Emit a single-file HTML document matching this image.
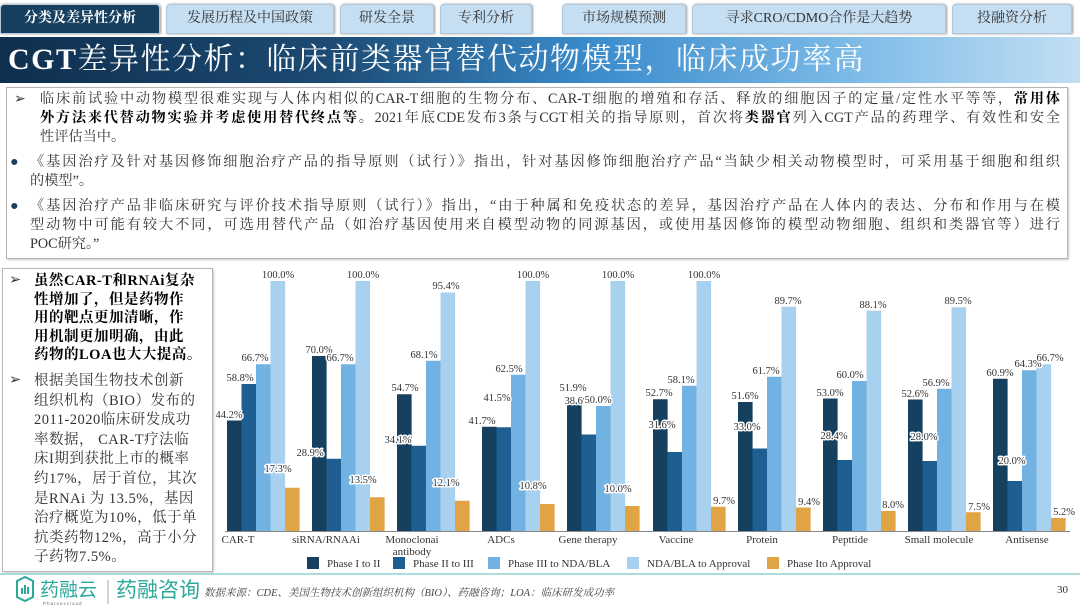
<!DOCTYPE html>
<html><head><meta charset="utf-8">
<style>
*{margin:0;padding:0;box-sizing:border-box}
body{width:1080px;height:609px;background:#fff;position:relative;overflow:hidden;font-family:"Liberation Serif","Noto Serif CJK SC",serif;color:#333}
.tab{position:absolute;top:4px;height:30px;background:#c5def2;border:1px solid #b3c8da;border-radius:4px 4px 0 0;font-size:14px;line-height:28px;text-align:center;color:#333;box-shadow:1px 0 2px #999}
.tab.on{background:#173f60;color:#fff;font-weight:bold}
.title{position:absolute;left:0;top:37px;width:1080px;height:46px;background:linear-gradient(90deg,#0f2f4f 0%,#1c4a72 30%,#3b8ccc 55%,#7ab9e6 78%,#c2dff4 100%);color:#fff;font-size:30px;line-height:46px;padding-left:8px;letter-spacing:1.5px}
.box{position:absolute;border:1px solid #b5b5b5;box-shadow:1px 1px 2px #ccc;background:#fff}
.ln{position:absolute;font-size:14.2px;line-height:19px;white-space:nowrap;color:#333}
.j{text-align:justify;text-align-last:justify}
b{color:#000}
.lt{position:absolute;font-size:14.5px;white-space:nowrap;color:#333;letter-spacing:0.5px}
</style></head><body>
<div class="tab on" style="left:0;width:160px">分类及差异性分析</div>
<div class="tab" style="left:166px;width:168px">发展历程及中国政策</div>
<div class="tab" style="left:340px;width:94px">研发全景</div>
<div class="tab" style="left:440px;width:92px">专利分析</div>
<div class="tab" style="left:562px;width:124px">市场规模预测</div>
<div class="tab" style="left:692px;width:254px">寻求CRO/CDMO合作是大趋势</div>
<div class="tab" style="left:952px;width:120px">投融资分析</div>
<div class="title"><span style="font-weight:bold">CGT</span>差异性分析：临床前类器官替代动物模型，临床成功率高</div>

<div class="box" style="left:6px;top:87px;width:1062px;height:172px"></div>
<div class="ln" style="left:14px;top:90px">➢</div>
<div class="ln j" style="left:40px;top:90px;width:1020px">临床前试验中动物模型很难实现与人体内相似的CAR-T细胞的生物分布、CAR-T细胞的增殖和存活、释放的细胞因子的定量/定性水平等等，<b>常用体</b></div>
<div class="ln j" style="left:40px;top:109px;width:1020px"><b>外方法来代替动物实验并考虑使用替代终点等</b>。2021年底CDE发布3条与CGT相关的指导原则，首次将<b>类器官</b>列入CGT产品的药理学、有效性和安全</div>
<div class="ln" style="left:40px;top:128px">性评估当中。</div>
<div class="ln" style="left:10px;top:153px;color:#1f3f5f">●</div>
<div class="ln j" style="left:30px;top:153px;width:1030px">《基因治疗及针对基因修饰细胞治疗产品的指导原则（试行）》指出，针对基因修饰细胞治疗产品“当缺少相关动物模型时，可采用基于细胞和组织</div>
<div class="ln" style="left:30px;top:172px">的模型”。</div>
<div class="ln" style="left:10px;top:197px;color:#1f3f5f">●</div>
<div class="ln j" style="left:30px;top:197px;width:1030px">《基因治疗产品非临床研究与评价技术指导原则（试行）》指出，“由于种属和免疫状态的差异，基因治疗产品在人体内的表达、分布和作用与在模</div>
<div class="ln j" style="left:30px;top:216px;width:1030px">型动物中可能有较大不同，可选用替代产品（如治疗基因使用来自模型动物的同源基因，或使用基因修饰的模型动物细胞、组织和类器官等）进行</div>
<div class="ln" style="left:30px;top:235px">POC研究。”</div>

<div class="box" style="left:2px;top:268px;width:211px;height:304px"></div>
<div class="lt" style="left:9px;top:272px">➢</div>
<div class="lt" style="left:34px;top:272px;font-weight:bold;color:#000;line-height:18.6px">虽然CAR-T和RNAi复杂<br>性增加了，但是药物作<br>用的靶点更加清晰，作<br>用机制更加明确，由此<br>药物的LOA也大大提高。</div>
<div class="lt" style="left:9px;top:372px">➢</div>
<div class="lt" style="left:34px;top:372px;line-height:19.6px">根据美国生物技术创新<br>组织机构（BIO）发布的<br>2011-2020临床研发成功<br>率数据， CAR-T疗法临<br>床I期到获批上市的概率<br>约17%，居于首位，其次<br>是RNAi 为 13.5%，基因<br>治疗概览为10%，低于单<br>抗类药物12%，高于小分<br>子药物7.5%。</div>

<svg style="position:absolute;left:0;top:0" width="1080" height="609" font-family="Liberation Serif, serif">
<g>
<rect x="227" y="420.5" width="14.6" height="110.5" fill="#15405f"/><rect x="241.5" y="384" width="14.6" height="147" fill="#1f5e91"/><rect x="256" y="364.25" width="14.6" height="166.75" fill="#72b2e2"/><rect x="270.5" y="281" width="14.6" height="250" fill="#a8d0ef"/><rect x="285" y="487.75" width="14.6" height="43.25" fill="#e0a445"/>
<rect x="312" y="356" width="14.6" height="175" fill="#15405f"/><rect x="326.5" y="458.75" width="14.6" height="72.25" fill="#1f5e91"/><rect x="341" y="364.25" width="14.6" height="166.75" fill="#72b2e2"/><rect x="355.5" y="281" width="14.6" height="250" fill="#a8d0ef"/><rect x="370" y="497.25" width="14.6" height="33.75" fill="#e0a445"/>
<rect x="397" y="394.25" width="14.6" height="136.75" fill="#15405f"/><rect x="411.5" y="445.75" width="14.6" height="85.25" fill="#1f5e91"/><rect x="426" y="360.75" width="14.6" height="170.25" fill="#72b2e2"/><rect x="440.5" y="292.5" width="14.6" height="238.5" fill="#a8d0ef"/><rect x="455" y="500.75" width="14.6" height="30.25" fill="#e0a445"/>
<rect x="482" y="426.75" width="14.6" height="104.25" fill="#15405f"/><rect x="496.5" y="427.25" width="14.6" height="103.75" fill="#1f5e91"/><rect x="511" y="374.75" width="14.6" height="156.25" fill="#72b2e2"/><rect x="525.5" y="281" width="14.6" height="250" fill="#a8d0ef"/><rect x="540" y="504" width="14.6" height="27" fill="#e0a445"/>
<rect x="567" y="401.25" width="14.6" height="129.75" fill="#15405f"/><rect x="581.5" y="434.5" width="14.6" height="96.5" fill="#1f5e91"/><rect x="596" y="406" width="14.6" height="125" fill="#72b2e2"/><rect x="610.5" y="281" width="14.6" height="250" fill="#a8d0ef"/><rect x="625" y="506" width="14.6" height="25" fill="#e0a445"/>
<rect x="653" y="399.25" width="14.6" height="131.75" fill="#15405f"/><rect x="667.5" y="452" width="14.6" height="79" fill="#1f5e91"/><rect x="682" y="385.75" width="14.6" height="145.25" fill="#72b2e2"/><rect x="696.5" y="281" width="14.6" height="250" fill="#a8d0ef"/><rect x="711" y="506.75" width="14.6" height="24.25" fill="#e0a445"/>
<rect x="738" y="402" width="14.6" height="129" fill="#15405f"/><rect x="752.5" y="448.5" width="14.6" height="82.5" fill="#1f5e91"/><rect x="767" y="376.75" width="14.6" height="154.25" fill="#72b2e2"/><rect x="781.5" y="306.75" width="14.6" height="224.25" fill="#a8d0ef"/><rect x="796" y="507.5" width="14.6" height="23.5" fill="#e0a445"/>
<rect x="823" y="398.5" width="14.6" height="132.5" fill="#15405f"/><rect x="837.5" y="460" width="14.6" height="71" fill="#1f5e91"/><rect x="852" y="381" width="14.6" height="150" fill="#72b2e2"/><rect x="866.5" y="310.75" width="14.6" height="220.25" fill="#a8d0ef"/><rect x="881" y="511" width="14.6" height="20" fill="#e0a445"/>
<rect x="908" y="399.5" width="14.6" height="131.5" fill="#15405f"/><rect x="922.5" y="461" width="14.6" height="70" fill="#1f5e91"/><rect x="937" y="388.75" width="14.6" height="142.25" fill="#72b2e2"/><rect x="951.5" y="307.25" width="14.6" height="223.75" fill="#a8d0ef"/><rect x="966" y="512.25" width="14.6" height="18.75" fill="#e0a445"/>
<rect x="993" y="378.75" width="14.6" height="152.25" fill="#15405f"/><rect x="1007.5" y="481" width="14.6" height="50" fill="#1f5e91"/><rect x="1022" y="370.25" width="14.6" height="160.75" fill="#72b2e2"/><rect x="1036.5" y="364.25" width="14.6" height="166.75" fill="#a8d0ef"/><rect x="1051" y="518" width="14.6" height="13" fill="#e0a445"/>
</g>
<line x1="225" y1="531.5" x2="1070" y2="531.5" stroke="#888" stroke-width="1"/>
<g font-size="10.5" text-anchor="middle" fill="#333" stroke="#fff" stroke-width="3" paint-order="stroke" stroke-linejoin="round">
<text x="229" y="418">44.2%</text><text x="240" y="381">58.8%</text><text x="255" y="361">66.7%</text><text x="278" y="278">100.0%</text><text x="278" y="472">17.3%</text>
<text x="319" y="353">70.0%</text><text x="310" y="456">28.9%</text><text x="340" y="361">66.7%</text><text x="363" y="278">100.0%</text><text x="363" y="483">13.5%</text>
<text x="405" y="391">54.7%</text><text x="398" y="443">34.1%</text><text x="424" y="358">68.1%</text><text x="446" y="289">95.4%</text><text x="446" y="486">12.1%</text>
<text x="482" y="424">41.7%</text><text x="497" y="401">41.5%</text><text x="509" y="372">62.5%</text><text x="533" y="278">100.0%</text><text x="533" y="489">10.8%</text>
<text x="573" y="391">51.9%</text><text x="578" y="404">38.6%</text><text x="598" y="403">50.0%</text><text x="618" y="278">100.0%</text><text x="618" y="492">10.0%</text>
<text x="659" y="396">52.7%</text><text x="662" y="428">31.6%</text><text x="681" y="383">58.1%</text><text x="704" y="278">100.0%</text><text x="724" y="504">9.7%</text>
<text x="745" y="399">51.6%</text><text x="747" y="430">33.0%</text><text x="766" y="374">61.7%</text><text x="788" y="304">89.7%</text><text x="809" y="505">9.4%</text>
<text x="830" y="396">53.0%</text><text x="834" y="439">28.4%</text><text x="850" y="378">60.0%</text><text x="873" y="308">88.1%</text><text x="893" y="508">8.0%</text>
<text x="915" y="397">52.6%</text><text x="924" y="440">28.0%</text><text x="936" y="386">56.9%</text><text x="958" y="304">89.5%</text><text x="979" y="510">7.5%</text>
<text x="1000" y="376">60.9%</text><text x="1012" y="464">20.0%</text><text x="1028" y="367">64.3%</text><text x="1050" y="361">66.7%</text><text x="1064" y="515">5.2%</text>
</g>
<g font-size="11" text-anchor="middle" fill="#333">
<text x="238" y="543">CAR-T</text><text x="326" y="543">siRNA/RNAAi</text><text x="412" y="543">Monoclonai</text><text x="412" y="555">antibody</text><text x="501" y="543">ADCs</text><text x="588" y="543">Gene therapy</text><text x="676" y="543">Vaccine</text><text x="762" y="543">Protein</text><text x="850" y="543">Pepttide</text><text x="939" y="543">Small molecule</text><text x="1027" y="543">Antisense</text>
</g>
<g font-size="11" fill="#333">
<rect x="307" y="557" width="12" height="12" fill="#15405f"/><text x="327" y="567">Phase I to II</text>
<rect x="393" y="557" width="12" height="12" fill="#1f5e91"/><text x="413" y="567">Phase II to III</text>
<rect x="488" y="557" width="12" height="12" fill="#72b2e2"/><text x="508" y="567">Phase III to NDA/BLA</text>
<rect x="627" y="557" width="12" height="12" fill="#a8d0ef"/><text x="647" y="567">NDA/BLA to Approval</text>
<rect x="767" y="557" width="12" height="12" fill="#e0a445"/><text x="787" y="567">Phase Ito Approval</text>
</g>
<line x1="0" y1="574" x2="1080" y2="574" stroke="#8fd3cc" stroke-width="1.5"/>
<g fill="none" stroke="#2aa99a" stroke-width="2">
<path d="M17 581 L25 577 L33 581 L33 597 L25 601 L17 597 Z"/>
</g>
<g fill="#2aa99a">
<rect x="21" y="588" width="2" height="6"/><rect x="24" y="585" width="2" height="9"/><rect x="27" y="587" width="2" height="7"/>
</g>
<text x="40" y="596" font-family="Liberation Sans, Noto Sans CJK SC, sans-serif" font-size="19" fill="#2aa99a">药融云</text>
<text x="43" y="605" font-family="Liberation Sans, sans-serif" font-size="4.5" fill="#666" letter-spacing="1">Pharnexcloud</text>
<line x1="108" y1="580" x2="108" y2="604" stroke="#aaa"/>
<text x="116" y="597" font-family="Liberation Sans, Noto Sans CJK SC, sans-serif" font-size="21" fill="#2aa99a">药融咨询</text>
<text x="204" y="596" font-size="10.5" font-style="italic" fill="#444" font-family="Liberation Serif, Noto Serif CJK SC, serif">数据来源：CDE、美国生物技术创新组织机构（BIO）、药融咨询；LOA：临床研发成功率</text>
<text x="1057" y="593" font-size="11" fill="#333">30</text>
</svg>
</body></html>
